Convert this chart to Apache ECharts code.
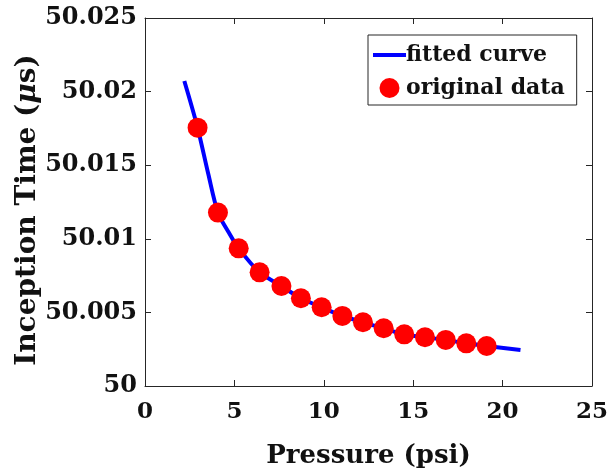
<!DOCTYPE html>
<html>
<head>
<meta charset="utf-8">
<script src="https://cdn.jsdelivr.net/npm/echarts@6/dist/echarts.min.js"></script>
<style>
    html, body { margin: 0; padding: 0; background: #fff; }
    #chart { width: 608px; height: 472px; }
</style>
</head>
<body>
<div id="chart"></div>
<script>
// measured points (psi, microseconds)
var pressure = [2.94, 4.08, 5.24, 6.41, 7.63, 8.72, 9.88, 11.04, 12.19, 13.35, 14.5, 15.66, 16.82, 17.97, 19.11];
var inception = [50.01755, 50.01178, 50.00935, 50.00772, 50.00679, 50.00596, 50.00535, 50.00476,
    50.00433, 50.00392, 50.00351, 50.00331, 50.00313, 50.0029, 50.00272];

// fitted curve
var fitX = [2.2, 2.94, 3.54, 4.08, 4.66, 5.24, 6.41, 7.63, 8.72, 9.88, 11.04, 12.19, 13.35, 14.5, 15.66, 16.82, 17.97, 19.11, 21];
var fitY = [50.02072, 50.01755, 50.0144, 50.01178, 50.01048, 50.00935, 50.00772, 50.00679, 50.00596,
    50.00535, 50.00476, 50.00433, 50.00392, 50.00351, 50.00331, 50.00313, 50.0029, 50.00272, 50.00245];

var xTicks = [0, 25, 5];
var yTicks = [50, 50.025, 0.005];

var fontFam = 'DejaVu Serif';
var axisColor = '#262626';

function pairs(xs, ys) {
    return xs.map(function(x, i) { return [x, ys[i]]; });
}

function frameAxis(pos, range, showLabel) {
    return {
        type: 'value',
        position: pos,
        min: range[0],
        max: range[1],
        interval: range[2],
        axisLine: { show: true, onZero: false, lineStyle: { color: axisColor, width: 1 } },
        axisTick: { show: true, inside: true, length: 6, lineStyle: { color: axisColor } },
        axisLabel: { show: showLabel },
        splitLine: { show: false }
    };
}

var xMain = frameAxis('bottom', xTicks, true);
xMain.axisLabel = { show: true, margin: 15, color: '#111', fontFamily: fontFam, fontWeight: 'bold', fontSize: 23 };
xMain.name = 'Pressure (psi)';
xMain.nameLocation = 'middle';
xMain.nameGap = 57;
xMain.nameMoveOverlap = false;
xMain.nameTextStyle = { color: '#111', fontFamily: fontFam, fontWeight: 'bold', fontSize: 26 };

var yMain = frameAxis('left', yTicks, true);
yMain.axisLabel = {
    show: true, margin: 8, color: '#111', fontFamily: fontFam, fontWeight: 'bold', fontSize: 24,
    formatter: function(v) { return String(+v.toFixed(3)); }
};
yMain.name = 'Inception Time ({i|μ}s)';
yMain.nameLocation = 'middle';
yMain.nameGap = 103;
yMain.nameMoveOverlap = false;
yMain.nameTextStyle = {
    color: '#111', fontFamily: fontFam, fontWeight: 'bold', fontSize: 28, padding: [0, 16, 0, 0],
    rich: { i: { fontFamily: fontFam, fontWeight: 'bold', fontStyle: 'italic', fontSize: 28, color: '#111' } }
};

var option = {
    animation: false,
    backgroundColor: '#fff',
    grid: { left: 145, top: 18, right: 16, bottom: 86, outerBoundsMode: 'none' },
    xAxis: [xMain, frameAxis('top', xTicks, false)],
    yAxis: [yMain, frameAxis('right', yTicks, false)],
    legend: {
        orient: 'vertical',
        left: 368,
        top: 35,
        padding: [9, 12, 6, 5],
        itemGap: 11,
        itemWidth: 33,
        itemHeight: 20,
        borderColor: axisColor,
        borderWidth: 1,
        backgroundColor: '#fff',
        textStyle: { color: '#111', fontFamily: fontFam, fontWeight: 'bold', fontSize: 22, padding: [0, 0, 0, -5] },
        data: [
            { name: 'fitted curve', icon: 'path://M0,0L33,0L33,4L0,4Z' },
            { name: 'original data', icon: 'circle' }
        ]
    },
    series: [
        {
            name: 'fitted curve',
            type: 'line',
            data: pairs(fitX, fitY),
            smooth: 0.3,
            symbol: 'none',
            lineStyle: { color: '#0000ff', width: 4 },
            itemStyle: { color: '#0000ff' },
            z: 2
        },
        {
            name: 'original data',
            type: 'scatter',
            data: pairs(pressure, inception),
            symbol: 'circle',
            symbolSize: 20,
            itemStyle: { color: '#ff0000', opacity: 1 },
            z: 3
        }
    ]
};

var myChart = echarts.init(document.getElementById('chart'));
myChart.setOption(option);
</script>
</body>
</html>
